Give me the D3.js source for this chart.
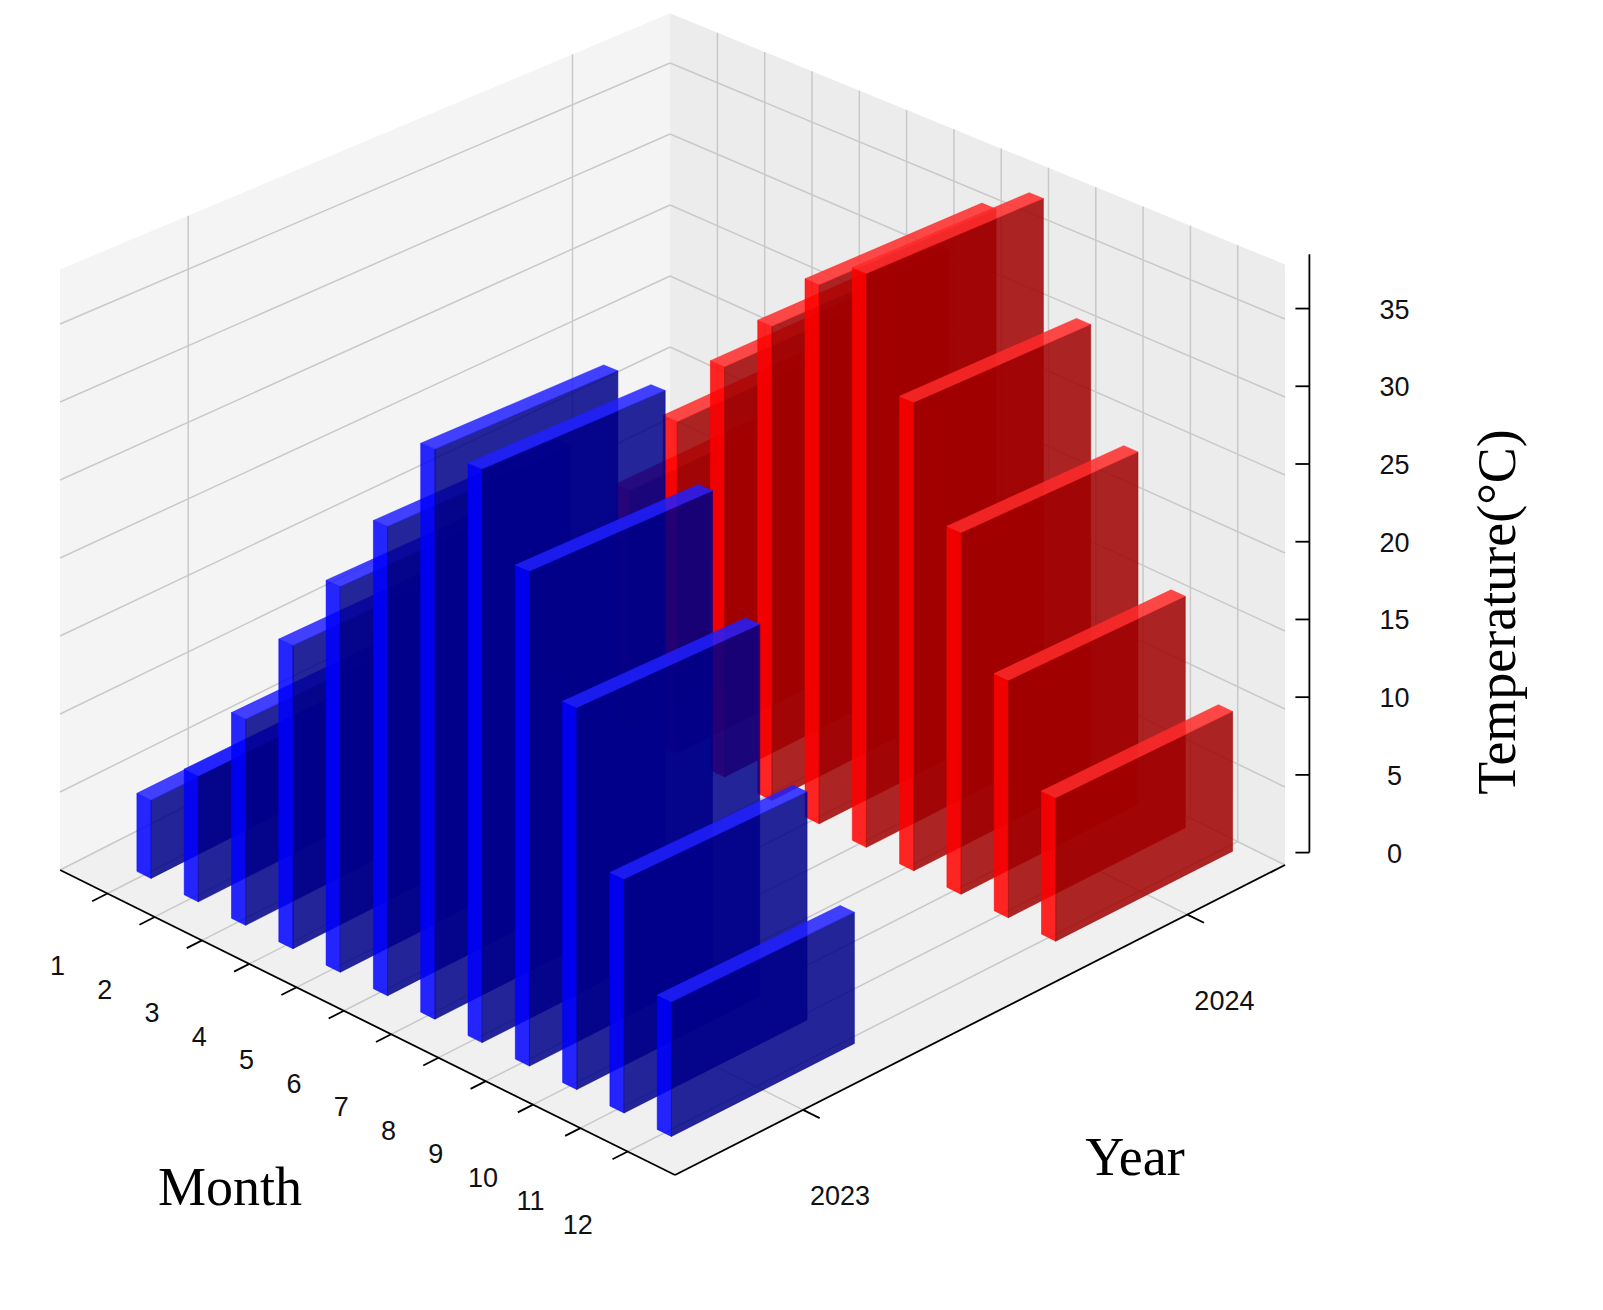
<!DOCTYPE html>
<html><head><meta charset="utf-8">
<script src="https://cdn.jsdelivr.net/npm/d3@7"></script>
<style>body{margin:0;background:#fff}</style></head>
<body><svg id="c" width="1603" height="1310"></svg>
<script>
const months = [1,2,3,4,5,6,7,8,9,10,11,12];
const years = ["2023","2024"];
const temp2023 = [5, 8, 13, 19, 24, 29, 35, 35, 30, 23, 14, 8];
const temp2024 = [6, 10, 16, 22, 27, 31, 35, 37, 30, 23, 15, 9];
const zTicks = [0,5,10,15,20,25,30,35];

const svg = d3.select("#c");
const uS = d3.scaleLinear().domain([0,13]).range([0,13]);
const vS = d3.scalePoint().domain(years).range([0.21,0.84]);
const zS = d3.scaleLinear().domain([0,38.5]).range([0,38.5]);
const front=[675,1175], mu=[47.3,23.46], yv=[610,-310];
function P(u,v,z){
  const dep=(13-u)/13+v, k=17-1.4*dep;
  return [front[0]+(u-13)*mu[0]+v*yv[0], front[1]+(u-13)*mu[1]+v*yv[1]-z*k];
}
const line=d3.line();
const ZMAX=38.5;
function poly(pts,fill){svg.append("path").attr("d",line(pts)+"Z").attr("fill",fill).attr("stroke","none");}
poly([P(0,0,0),P(13,0,0),P(13,1,0),P(0,1,0)],"#f0f0f0");
poly([P(0,0,0),P(0,1,0),P(0,1,ZMAX),P(0,0,ZMAX)],"#f4f4f4");
poly([P(0,1,0),P(13,1,0),P(13,1,ZMAX),P(0,1,ZMAX)],"#ececec");
const g=svg.append("g").attr("stroke","#c9c9c9").attr("stroke-width",1.5).attr("fill","none");
function L(a,b,el){(el||g).append("path").attr("d",line([a,b]));}
months.forEach(m=>{const u=uS(m);L(P(u,0,0),P(u,1,0));L(P(u,1,0),P(u,1,ZMAX));});
years.forEach(y=>{const v=vS(y);L(P(0,v,0),P(13,v,0));L(P(0,v,0),P(0,v,ZMAX));});
zTicks.forEach(z=>{L(P(0,0,z),P(0,1,z));L(P(0,1,z),P(13,1,z));});
const ax=svg.append("g").attr("stroke","#000").attr("stroke-width",1.8).attr("fill","none");
L(P(0,0,0),P(13,0,0),ax);L(P(13,0,0),P(13,1,0),ax);
L(P(13,1.04,0),P(13,1.04,ZMAX),ax);
months.forEach(m=>L(P(uS(m),0,0),P(uS(m),-0.025,0),ax));
years.forEach(y=>L(P(13,vS(y),0),P(13.35,vS(y),0),ax));
zTicks.forEach(z=>{const p=P(13,1.04,zS(z));L([p[0]-14,p[1]],[p[0],p[1]],ax);});
const bars=[];
months.forEach((m,i)=>{
  bars.push({u:uS(m),v0:0.06,v1:0.36,h:temp2023[i],c:["#0000ff","#00008a","#2020ff"]});
  bars.push({u:uS(m),v0:0.69,v1:0.98,h:temp2024[i],c:["#ff0000","#a00000","#ff2a2a"]});
});
bars.forEach(b=>b.d=(13-b.u)+(b.v0+b.v1)/2*13);
bars.sort((a,b)=>b.d-a.d);
const bg=svg.append("g");
bars.forEach(b=>{
  const u0=b.u-0.15,u1=b.u+0.15,h=zS(b.h);
  const faces=[
    [[P(u0,b.v0,0),P(u1,b.v0,0),P(u1,b.v0,h),P(u0,b.v0,h)],b.c[0]],
    [[P(u1,b.v0,0),P(u1,b.v1,0),P(u1,b.v1,h),P(u1,b.v0,h)],b.c[1]],
    [[P(u0,b.v0,h),P(u1,b.v0,h),P(u1,b.v1,h),P(u0,b.v1,h)],b.c[2]]];
  faces.forEach(f=>bg.append("path").attr("d",line(f[0])+"Z").attr("fill",f[1]).attr("fill-opacity",0.85).attr("stroke",f[1]).attr("stroke-width",0.5));
});
const t=svg.append("g").attr("font-family","Liberation Sans, Arial, sans-serif").attr("font-size",27).attr("fill","#111");
months.forEach(m=>{const p=P(uS(m),0,0);t.append("text").attr("x",p[0]-50).attr("y",p[1]+82).attr("text-anchor","middle").text(m);});
years.forEach(y=>{const p=P(13,vS(y),0);t.append("text").attr("x",p[0]+37).attr("y",p[1]+95).attr("text-anchor","middle").text(y);});
zTicks.forEach(z=>{const p=P(13,1.04,zS(z));t.append("text").attr("x",p[0]+85).attr("y",p[1]+10).attr("text-anchor","middle").text(z);});
const s=svg.append("g").attr("font-family","Liberation Serif, Times New Roman, serif").attr("font-size",54).attr("fill","#000");
s.append("text").attr("x",230).attr("y",1205).attr("text-anchor","middle").text("Month");
s.append("text").attr("x",1135).attr("y",1175).attr("text-anchor","middle").text("Year");
s.append("text").attr("transform","translate(1515,612) rotate(-90)").attr("text-anchor","middle").text("Temperature(°C)");
</script></body></html>
